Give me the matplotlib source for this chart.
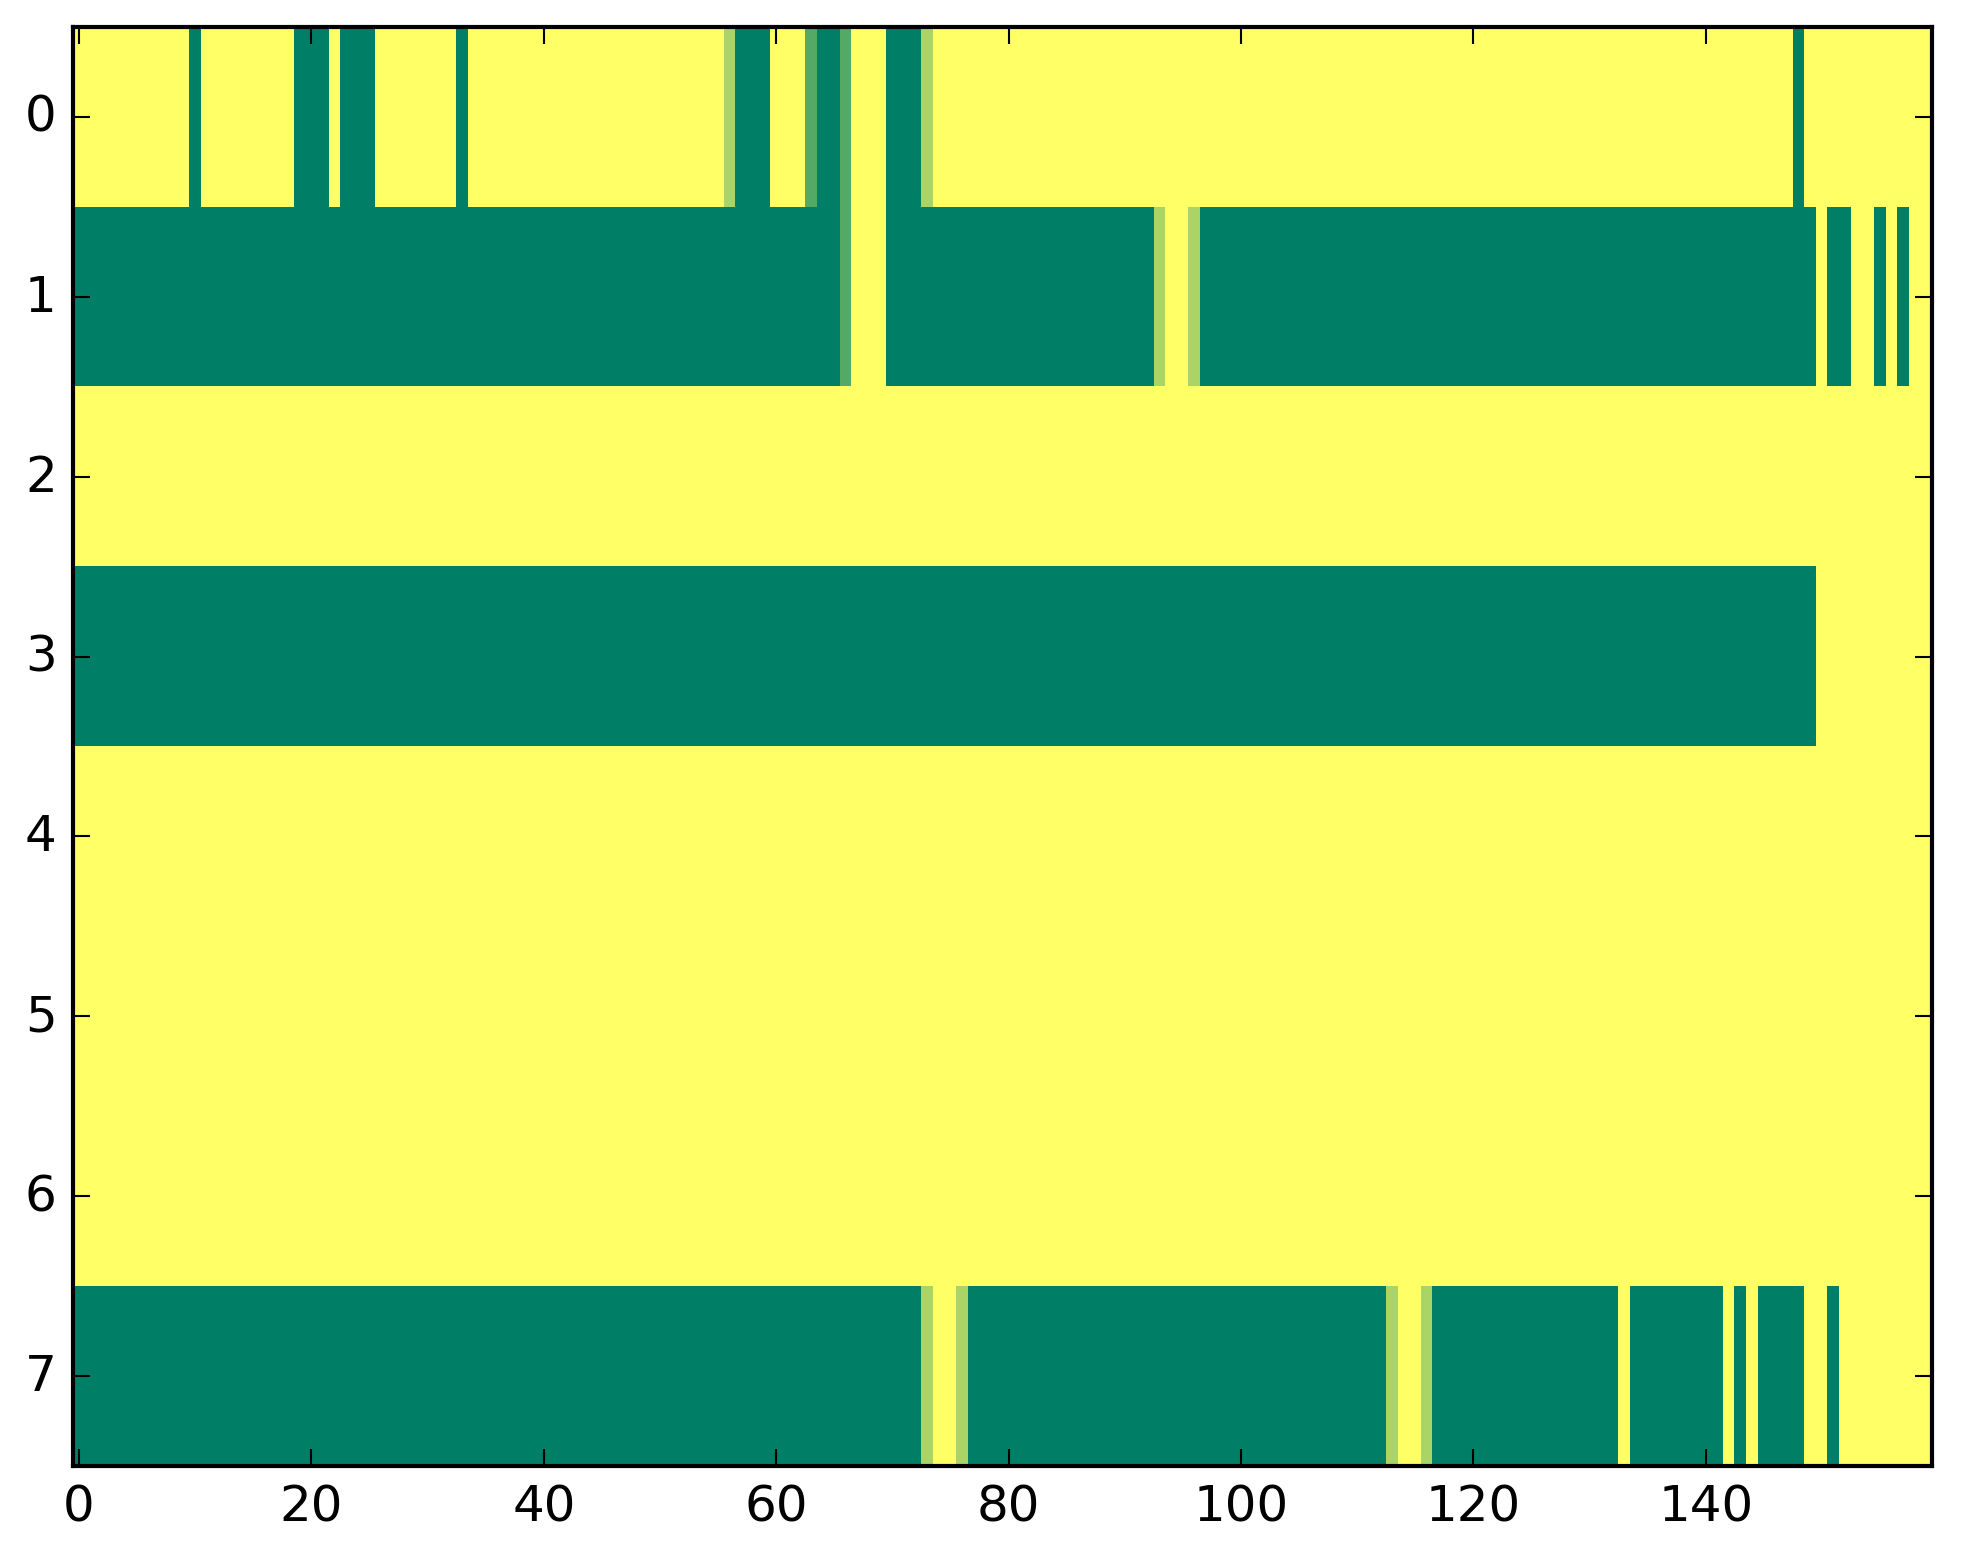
import numpy as np
import matplotlib
matplotlib.use("Agg")
import matplotlib.pyplot as plt

# cell values: 0 = green, 1 = yellow, in-between shades where the picture shows them
G, M, L, Y = 0.0, 0.33, 0.67, 1.0

# each row as (value, run length) pairs, 160 columns per row
row0 = [(Y, 10), (G, 1), (Y, 8), (G, 3), (Y, 1), (G, 3), (Y, 7), (G, 1), (Y, 22),
        (L, 1), (G, 3), (Y, 3), (M, 1), (G, 2), (M, 1), (Y, 3), (G, 3), (L, 1),
        (Y, 74), (G, 1), (Y, 11)]
row1 = [(G, 66), (M, 1), (Y, 3), (G, 23), (L, 1), (Y, 2), (L, 1), (G, 53), (Y, 1),
        (G, 2), (Y, 2), (G, 1), (Y, 1), (G, 1), (Y, 2)]
row2 = [(Y, 160)]
row3 = [(G, 150), (Y, 10)]
row4 = [(Y, 160)]
row5 = [(Y, 160)]
row6 = [(Y, 160)]
row7 = [(G, 73), (L, 1), (Y, 2), (L, 1), (G, 36), (L, 1), (Y, 2), (L, 1), (G, 16),
        (Y, 1), (G, 8), (Y, 1), (G, 1), (Y, 1), (G, 4), (Y, 2), (G, 1), (Y, 8)]

rows = [row0, row1, row2, row3, row4, row5, row6, row7]
x_ticks = [0, 20, 40, 60, 80, 100, 120, 140]
y_ticks = list(range(8))


def expand(runs):
    vals = [v for v, _ in runs]
    counts = [n for _, n in runs]
    return np.repeat(vals, counts)


def main():
    data = np.vstack([expand(r) for r in rows])

    plt.style.use("classic")
    W, H, dpi = 1963, 1564, 300
    fig = plt.figure(figsize=(W / dpi, H / dpi), dpi=dpi)
    ax = fig.add_axes([73.3 / W, (H - 1467) / H, 1859 / W, 1439 / H])

    ax.imshow(data, cmap="summer", vmin=0, vmax=1, aspect="auto",
              interpolation="nearest")
    ax.set_xticks(x_ticks)
    ax.set_yticks(y_ticks)
    ax.set_xlim(-0.5, data.shape[1] - 0.5)
    ax.set_ylim(data.shape[0] - 0.5, -0.5)

    fig.savefig("out.png", dpi=dpi)


if __name__ == "__main__":
    main()
